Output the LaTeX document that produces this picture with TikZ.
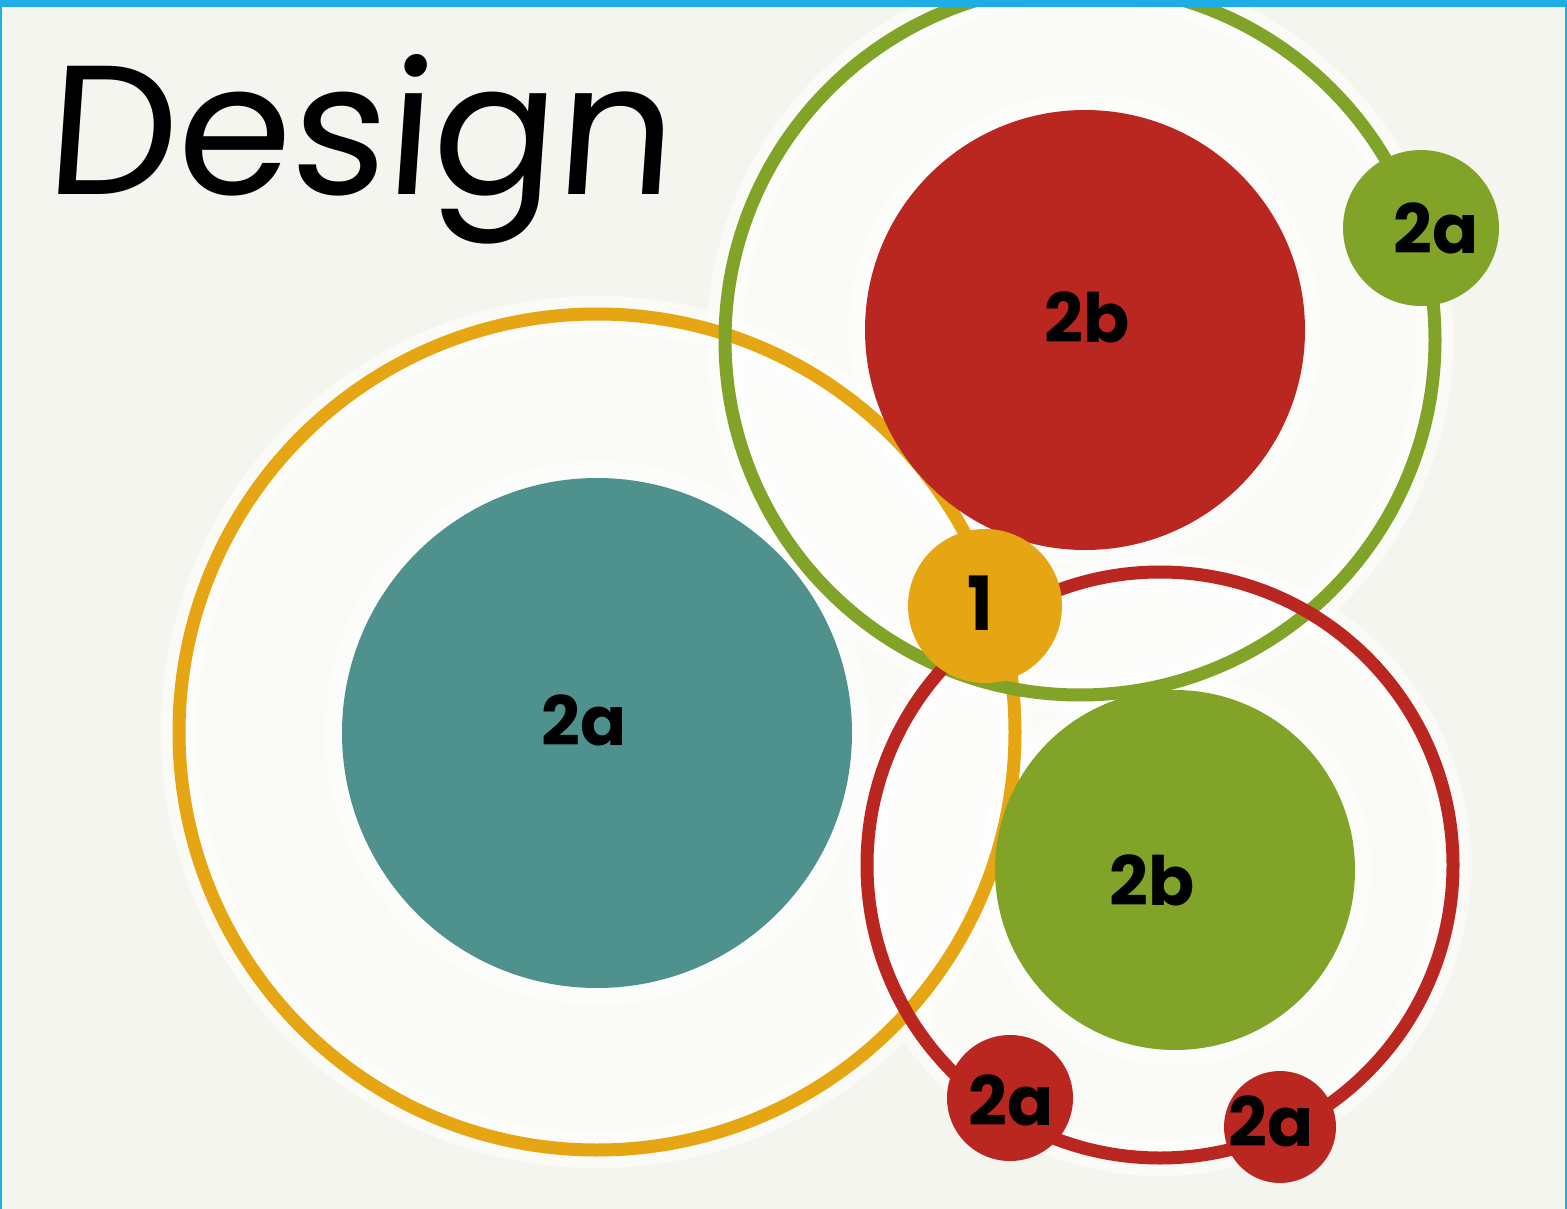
\documentclass[tikz,border=0pt]{standalone}
\usepackage{fontspec}
\newfontfamily\labfont{Poppins}
\newfontfamily\handfont{Poppins}[FakeSlant=0.07]
\definecolor{bgc}{HTML}{F5F5F0}
\definecolor{barblue}{HTML}{1EADE4}
\definecolor{orng}{HTML}{E6A614}
\definecolor{redc}{HTML}{BA2620}
\definecolor{grn}{HTML}{80A328}
\definecolor{tealc}{HTML}{4F918D}
\tikzset{
  disc/.style={circle, inner sep=0pt, minimum size=#1},
  lab/.style={font=\labfont\bfseries\fontsize{68}{68}\selectfont, text=black, inner sep=0pt},
  ringline/.style={line width=13pt},
  halo/.style={draw=white, line width=#1, opacity=0.5},
  halofill/.style={fill=white, opacity=0.55},
}
\begin{document}
\begin{tikzpicture}[x=1pt,y=-1pt]
\useasboundingbox (0,0) rectangle (1567,1209);
\fill[bgc] (0,0) rectangle (1567,1209);
\begin{scope}
\clip (0,7) rectangle (1567,1209);
% soft white interiors and halos
\fill[white, opacity=0.5] (597,732) circle (418);
\fill[white, opacity=0.5] (1080,340) circle (355);
\fill[white, opacity=0.5] (1160,865) circle (293);
\draw[halo=36pt] (597,732) circle (418);
\draw[halo=36pt] (1080,340) circle (355);
\draw[halo=36pt] (1160,865) circle (293);
\fill[halofill] (597,733) circle (272);
\fill[halofill] (1085,330) circle (236);
\fill[halofill] (1175,870) circle (196);
% rings
\draw[orng, ringline] (597,732) circle (418);
\draw[grn, ringline] (1080,340) circle (355);
\draw[redc, ringline] (1160,865) circle (293);
% filled discs
\node[disc=510pt, fill=tealc] (tealdisc) at (597,733) {};
\node[disc=440pt, fill=redc] (reddisc) at (1085,330) {};
\node[disc=360pt, fill=grn] (grndisc) at (1175,870) {};
\node[disc=154pt, fill=orng] (core) at (985,606) {};
\node[disc=156pt, fill=grn] (gsmall) at (1421,228) {};
\node[disc=126pt, fill=redc] (rsmallA) at (1010,1098) {};
\node[disc=112pt, fill=redc] (rsmallB) at (1280,1127) {};
% labels
\node[lab] (lteal) at (584,720) {2a};
\node[lab] (lred) at (1087,317) {2b};
\node[lab] (lgs) at (1436,228) {2a};
\node[lab, yscale=1.1] (lcore) at (980,603) {1};
\node[lab] (lgrn) at (1152,880) {2b};
\node[lab] (lra) at (1011,1100) {2a};
\node[lab] (lrb) at (1271,1121) {2a};
% title
\node[anchor=base west, inner sep=0pt, font=\handfont\fontsize{184}{184}\selectfont] (title) at (44,195) {Design};
\end{scope}
% frame bars
\fill[barblue] (0,0) rectangle (1567,7);
\fill[barblue] (0,0) rectangle (2,1209);
\fill[barblue] (1565,0) rectangle (1567,1209);
\end{tikzpicture}
\end{document}
